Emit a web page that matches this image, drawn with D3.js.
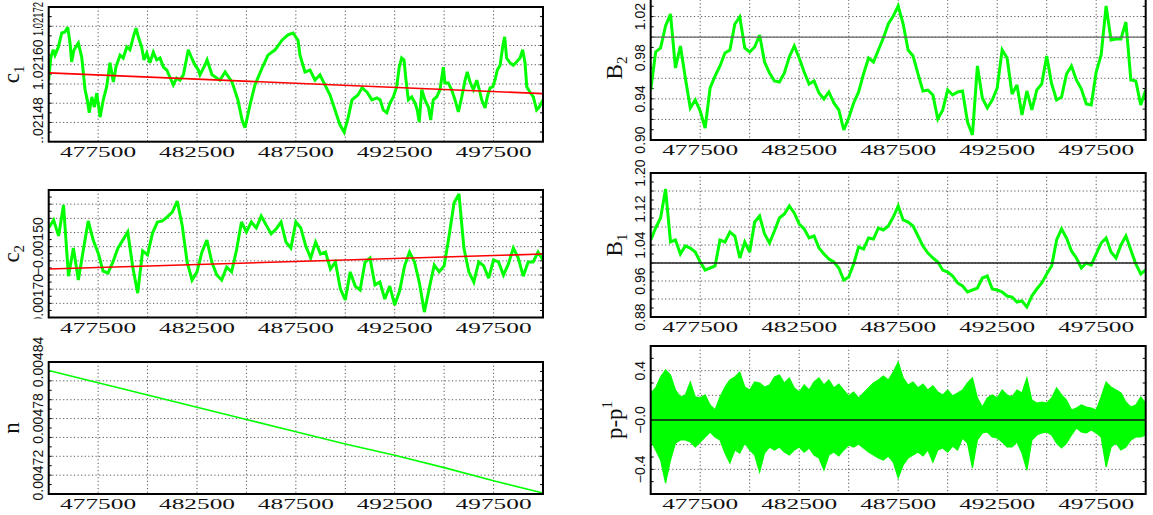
<!DOCTYPE html>
<html>
<head>
<meta charset="utf-8">
<script src="https://cdn.jsdelivr.net/npm/d3@7"></script>
<style>
body { margin: 0; background: #fff; }
svg { display: block; }
</style>
</head>
<body>
<svg id="chart" width="1153" height="515"></svg>
<script>
// ---- data ----
const xGrid = d3.range(477500, 500000, 2500);           // dotted vertical grid
const xLabels = [477500, 482500, 487500, 492500, 497500];
const sampleX = d3.range(475000, 500001, 250);          // sample positions of the uniform series

const c1X = [475000,475100,475230,475320,475490,475660,475820,475960,476080,476160,476280,476500,476670,476840,476950,
  477050,477180,477310,477430,477600,477760,477930,478100,478270,478400,478610,478770,478950,479110,479280,479420,479530,
  479700,479820,479960,480120,480290,480460,480630,480800,480970,481130,481300,481470,481640,481810,481980,482060,482230,
  482400,482570,482650,482900,483010,483260,483660,483920,484270,484570,484780,484930,485180,485430,485790,486090,486450,
  486800,487100,487360,487610,487710,487960,488220,488470,488720,488970,489230,489480,489730,489940,490140,490340,490640,
  490850,491100,491350,491600,491760,491920,492100,492260,492430,492600,492730,492850,492970,493070,493190,493360,493530,
  493640,493740,493870,494030,494200,494320,494450,494620,494790,494960,495040,495210,495380,495550,495720,495890,496060,
  496170,496310,496480,496650,496780,496900,497070,497180,497320,497460,497570,497690,497830,497960,498060,498160,498330,
  498500,498670,498840,498970,499090,499180,499340,499510,499680,499810,500000];
const c1 = [1.021568,1.021614,1.021631,1.021620,1.021637,1.021666,1.021668,1.021678,1.021645,1.021606,1.021631,1.021645,
  1.021616,1.021548,1.021527,1.021500,1.021533,1.021512,1.021541,1.021491,1.021527,1.021554,1.021604,1.021564,1.021595,
  1.021620,1.021614,1.021637,1.021631,1.021658,1.021676,1.021658,1.021637,1.021610,1.021624,1.021604,1.021626,1.021610,
  1.021614,1.021595,1.021589,1.021574,1.021558,1.021572,1.021568,1.021579,1.021614,1.021631,1.021614,1.021599,1.021589,
  1.021579,1.021599,1.021610,1.021579,1.021568,1.021585,1.021564,1.021527,1.021485,1.021469,1.021516,1.021558,1.021593,
  1.021620,1.021631,1.021651,1.021662,1.021666,1.021651,1.021620,1.021585,1.021589,1.021568,1.021579,1.021558,1.021537,
  1.021506,1.021475,1.021460,1.021489,1.021527,1.021537,1.021552,1.021543,1.021527,1.021531,1.021527,1.021506,1.021500,
  1.021520,1.021533,1.021554,1.021595,1.021614,1.021610,1.021568,1.021527,1.021533,1.021520,1.021506,1.021481,1.021548,
  1.021527,1.021512,1.021485,1.021527,1.021533,1.021548,1.021595,1.021562,1.021562,1.021548,1.021527,1.021502,1.021533,
  1.021568,1.021585,1.021564,1.021548,1.021568,1.021548,1.021527,1.021510,1.021533,1.021552,1.021554,1.021568,1.021589,
  1.021599,1.021637,1.021658,1.021614,1.021604,1.021599,1.021606,1.021614,1.021631,1.021604,1.021554,1.021543,1.021533,
  1.021506,1.021512,1.021527];
const c1Fit = [1.021583, 1.021540];

const c2 = [-0.001434,-0.001406,-0.001462,-0.001353,-0.001604,-0.001505,-0.001618,-0.001512,-0.001409,-0.001477,
  -0.001522,-0.001586,-0.001593,-0.001554,-0.001505,-0.001477,-0.001448,-0.001572,-0.001664,-0.001515,
  -0.001529,-0.001452,-0.001413,-0.001409,-0.001395,-0.001378,-0.001339,-0.001424,-0.001554,-0.001618,
  -0.001589,-0.001519,-0.001477,-0.001554,-0.001600,-0.001618,-0.001572,-0.001589,-0.001512,-0.001413,
  -0.001448,-0.001413,-0.001434,-0.001392,-0.001424,-0.001455,-0.001438,-0.001413,-0.001484,-0.001505,
  -0.001413,-0.001434,-0.001498,-0.001540,-0.001484,-0.001526,-0.001519,-0.001579,-0.001554,-0.001649,
  -0.001688,-0.001589,-0.001639,-0.001653,-0.001554,-0.001540,-0.001635,-0.001625,-0.001685,-0.001639,
  -0.001706,-0.001656,-0.001568,-0.001519,-0.001554,-0.001628,-0.001731,-0.001646,-0.001565,-0.001589,
  -0.001568,-0.001462,-0.001346,-0.001314,-0.001505,-0.001589,-0.001625,-0.001554,-0.001568,-0.001611,
  -0.001547,-0.001554,-0.001600,-0.001561,-0.001505,-0.001540,-0.001604,-0.001554,-0.001554,-0.001519,
  -0.001547];
const c2Fit = [-0.001579, -0.001526];

const nX = d3.range(475000, 500001, 2500);
const n = [0.004831,0.004818,0.004805,0.004792,0.004779,0.004766,0.004753,0.004741,0.004728,0.004714,0.004701];

const B2 = [0.9486,0.9856,0.9895,1.0108,1.0225,0.9700,0.9914,0.9603,0.9311,0.9389,
  0.9282,0.9117,0.9506,0.9622,0.9720,0.9846,0.9875,1.0128,1.0196,0.9895,
  0.9856,0.9904,1.0021,0.9758,0.9652,0.9574,0.9564,0.9652,0.9807,0.9914,
  0.9797,0.9661,0.9545,0.9574,0.9457,0.9399,0.9467,0.9360,0.9292,0.9098,
  0.9214,0.9360,0.9467,0.9642,0.9797,0.9758,0.9875,0.9992,1.0128,1.0206,
  1.0303,1.0128,0.9875,0.9817,0.9642,0.9477,0.9486,0.9438,0.9204,0.9292,
  0.9486,0.9438,0.9467,0.9477,0.9175,0.9049,0.9720,0.9409,0.9311,0.9389,
  0.9506,0.9875,0.9797,0.9447,0.9535,0.9243,0.9477,0.9292,0.9486,0.9545,
  0.9817,0.9545,0.9389,0.9418,0.9642,0.9720,0.9584,0.9496,0.9350,0.9341,
  0.9661,0.9827,1.0303,0.9972,0.9982,0.9982,1.0147,0.9584,0.9574,0.9341,
  0.9486];

const B1 = [1.0511,1.0778,1.1000,1.1644,1.0467,1.0511,1.0200,1.0378,1.0333,1.0244,
  1.0022,0.9844,0.9889,0.9933,1.0511,1.0467,1.0689,1.0600,1.0111,1.0467,
  1.0244,1.0911,1.1044,1.0644,1.0444,1.0711,1.1000,1.1089,1.1267,1.1111,
  1.0867,1.0756,1.0556,1.0600,1.0333,1.0200,1.0089,1.0022,0.9889,0.9622,
  0.9689,0.9978,1.0356,1.0311,1.0556,1.0533,1.0778,1.0733,1.0822,1.1022,
  1.1267,1.0956,1.0911,1.0822,1.0600,1.0378,1.0222,1.0111,1.0022,0.9844,
  0.9800,0.9711,0.9556,0.9489,0.9356,0.9400,0.9444,0.9667,0.9711,0.9422,
  0.9400,0.9356,0.9267,0.9244,0.9133,0.9156,0.9022,0.9267,0.9422,0.9556,
  0.9756,0.9933,1.0511,1.0756,1.0556,1.0267,1.0111,0.9889,1.0000,0.9956,
  1.0200,1.0444,1.0556,1.0244,1.0111,1.0400,1.0600,1.0289,0.9978,0.9756,
  0.9844];

// p - p^1 : upper and lower edge of the scatter band
const dpHi = [0.219,0.260,0.349,0.406,0.365,0.243,0.187,0.203,0.308,0.187,
  0.178,0.203,0.122,0.081,0.187,0.268,0.324,0.349,0.389,0.268,
  0.243,0.308,0.300,0.268,0.284,0.349,0.365,0.300,0.341,0.260,
  0.227,0.284,0.243,0.308,0.341,0.284,0.324,0.260,0.292,0.243,
  0.195,0.227,0.178,0.219,0.260,0.300,0.324,0.357,0.324,0.389,
  0.470,0.341,0.284,0.308,0.260,0.292,0.243,0.276,0.227,0.203,
  0.243,0.195,0.219,0.243,0.300,0.341,0.178,0.105,0.178,0.203,
  0.178,0.243,0.203,0.187,0.243,0.219,0.341,0.162,0.138,0.146,
  0.138,0.178,0.260,0.203,0.162,0.081,0.097,0.122,0.105,0.097,
  0.081,0.187,0.308,0.268,0.243,0.219,0.146,0.105,0.122,0.187,
  0.138];
const dpLo = [-0.162,-0.243,-0.324,-0.511,-0.324,-0.187,-0.162,-0.162,-0.178,-0.219,
  -0.178,-0.138,-0.097,-0.138,-0.162,-0.268,-0.349,-0.243,-0.268,-0.187,
  -0.243,-0.284,-0.422,-0.268,-0.219,-0.243,-0.219,-0.260,-0.284,-0.243,
  -0.219,-0.260,-0.227,-0.284,-0.308,-0.406,-0.284,-0.260,-0.292,-0.243,
  -0.203,-0.219,-0.195,-0.227,-0.260,-0.284,-0.308,-0.324,-0.292,-0.341,
  -0.470,-0.365,-0.308,-0.284,-0.260,-0.292,-0.243,-0.341,-0.243,-0.227,
  -0.260,-0.211,-0.243,-0.146,-0.187,-0.389,-0.162,-0.105,-0.097,-0.138,
  -0.146,-0.178,-0.219,-0.219,-0.178,-0.268,-0.406,-0.162,-0.122,-0.105,
  -0.097,-0.122,-0.187,-0.227,-0.187,-0.122,-0.065,-0.097,-0.105,-0.081,
  -0.105,-0.138,-0.381,-0.219,-0.187,-0.243,-0.219,-0.162,-0.138,-0.138,
  -0.122];

// ---- drawing ----
const GREEN = '#00ff00';
const svg = d3.select('#chart');

function lineOf(xs, ys, x, y){
	return d3.line().x((d,i)=>x(xs[i])).y(d=>y(d))(ys);
}

function greenLine(g, xs, ys, x, y){
	g.append('path').attr('d', lineOf(xs, ys, x, y)).attr('fill','none')
		.attr('stroke',GREEN).attr('stroke-width',3).attr('stroke-linejoin','miter').attr('stroke-miterlimit',3);
}

const panels = [
	{id:'c1', left:48.7, top:7, width:494.3, height:134.7, domain:[1.02144,1.02172], step:0.00004,
		ticks:[1.02148,1.02160,1.02172], fmt:d=>d.toFixed(5), title:'c', sub:'1', clipLabels:true,
		draw:(g,x,y)=>{
			greenLine(g, c1X, c1, x, y);
			g.append('path').attr('d', lineOf([475000,500000], c1Fit, x, y)).attr('fill','none')
				.attr('stroke','#ff0000').attr('stroke-width',1.6);
		}},
	{id:'c2', left:48.7, top:190, width:494.3, height:127.5, domain:[-0.00175,-0.00130], step:0.00005,
		ticks:[-0.00170,-0.00150], fmt:d=>'\u2212'+Math.abs(d).toFixed(5), title:'c', sub:'2', clipLabels:true,
		draw:(g,x,y)=>{
			greenLine(g, sampleX, c2, x, y);
			g.append('path').attr('d', lineOf([475000,500000], c2Fit, x, y)).attr('fill','none')
				.attr('stroke','#ff0000').attr('stroke-width',1.6);
		}},
	{id:'n', left:48.7, top:362, width:494.3, height:132, domain:[0.00470,0.00484], step:0.00002,
		ticks:[0.00472,0.00478,0.00484], fmt:d=>d.toFixed(5), title:'n', sub:null,
		draw:(g,x,y)=>{
			g.append('path').attr('d', lineOf(nX, n, x, y)).attr('fill','none')
				.attr('stroke',GREEN).attr('stroke-width',1.6);
		}},
	{id:'B2', left:650.7, top:-4, width:495, height:144, domain:[0.90,1.04], step:0.02,
		ticks:[0.90,0.94,0.98,1.02], fmt:d=>d.toFixed(2), title:'B', sub:'2', ref:1.0, refColor:'#666',
		draw:(g,x,y)=>greenLine(g, sampleX, B2, x, y)},
	{id:'B1', left:650.7, top:173, width:495, height:144, domain:[0.88,1.20], step:0.04,
		ticks:[0.88,0.96,1.04,1.12,1.20], fmt:d=>d.toFixed(2), title:'B', sub:'1', ref:1.0, refColor:'#222',
		draw:(g,x,y)=>greenLine(g, sampleX, B1, x, y)},
	{id:'dp', left:650.7, top:346, width:495, height:148, domain:[-0.6,0.6], step:0.2,
		ticks:[-0.4,0,0.4], fmt:d=>d>0 ? d.toFixed(1) : '\u2212'+Math.abs(d).toFixed(1), title:'p-p', sup:'1', ref:0, refColor:'#111',
		draw:(g,x,y)=>{
			const band = d3.area().x((d,i)=>x(sampleX[i])).y0((d,i)=>y(dpLo[i])).y1(d=>y(d));
			g.append('path').attr('d', band(dpHi)).attr('fill',GREEN)
				.attr('stroke',GREEN).attr('stroke-width',1.2).attr('stroke-linejoin','miter');
		}}
];

panels.forEach(p=>{
	const x = d3.scaleLinear().domain([475000,500000]).range([p.left, p.left+p.width]);
	const y = d3.scaleLinear().domain(p.domain).range([p.top+p.height, p.top]);
	const g = svg.append('g').attr('class','panel-'+p.id);

	const defs = svg.append('defs');
	defs.append('clipPath').attr('id','plot-'+p.id).append('rect')
		.attr('x',p.left).attr('y',p.top).attr('width',p.width).attr('height',p.height);
	defs.append('clipPath').attr('id','lab-'+p.id).append('rect')
		.attr('x',0).attr('y',p.top-40).attr('width',p.left).attr('height',p.height+41);

	const nSteps = Math.round((p.domain[1]-p.domain[0])/p.step);
	const gridVals = d3.range(1, nSteps).map(i=>p.domain[0]+i*p.step);
	const minorVals = d3.range(1, 2*nSteps).map(i=>p.domain[0]+i*p.step/2);

	// dotted grid
	g.append('g').selectAll('line').data(gridVals).join('line')
		.attr('x1',p.left).attr('x2',p.left+p.width)
		.attr('y1',d=>y(d)).attr('y2',d=>y(d))
		.attr('stroke','#555').attr('stroke-width',1).attr('stroke-dasharray','1.2,2.4');
	g.append('g').selectAll('line').data(xGrid).join('line')
		.attr('x1',d=>x(d)).attr('x2',d=>x(d))
		.attr('y1',p.top).attr('y2',p.top+p.height)
		.attr('stroke','#555').attr('stroke-width',1).attr('stroke-dasharray','1.2,2.4');

	// small inward ticks on both sides
	g.append('g').selectAll('line').data(minorVals).join('line')
		.attr('x1',p.left).attr('x2',p.left+3)
		.attr('y1',d=>y(d)).attr('y2',d=>y(d)).attr('stroke','#000');
	g.append('g').selectAll('line').data(minorVals).join('line')
		.attr('x1',p.left+p.width-3).attr('x2',p.left+p.width)
		.attr('y1',d=>y(d)).attr('y2',d=>y(d)).attr('stroke','#000');

	// data
	p.draw(g.append('g').attr('clip-path','url(#plot-'+p.id+')'), x, y);

	if (p.ref !== undefined){
		g.append('line').attr('x1',p.left).attr('x2',p.left+p.width)
			.attr('y1',y(p.ref)).attr('y2',y(p.ref))
			.attr('stroke',p.refColor).attr('stroke-width',1.3);
	}

	// frame
	g.append('rect').attr('x',p.left).attr('y',p.top).attr('width',p.width).attr('height',p.height)
		.attr('fill','none').attr('stroke','#000').attr('stroke-width',2);

	// x labels
	g.append('g').selectAll('text').data(xLabels).join('text')
		.attr('x',d=>x(d)).attr('y',p.top+p.height+15)
		.attr('text-anchor','middle')
		.attr('font-family','Liberation Serif, DejaVu Serif, serif').attr('font-size',15.5)
		.attr('textLength',76).attr('lengthAdjust','spacingAndGlyphs')
		.attr('fill','#111')
		.text(d=>d);

	// y labels, rotated; one that would run off the top of the page is squeezed to fit
	const lab = g.append('g');
	if (p.clipLabels) lab.attr('clip-path','url(#lab-'+p.id+')');
	lab.selectAll('text').data(p.ticks).join('text')
		.attr('font-family','Liberation Sans, Arial, sans-serif').attr('font-size',14)
		.attr('fill','#111')
		.each(function(d){
			const t = d3.select(this).text(p.fmt(d));
			const yy = y(d);
			const half = this.getComputedTextLength()/2;
			if (yy - half < 2){
				t.attr('transform',`translate(${p.left-6},${yy+29}) rotate(-90)`)
					.attr('text-anchor','start')
					.attr('textLength', yy+27).attr('lengthAdjust','spacingAndGlyphs');
			} else {
				t.attr('transform',`translate(${p.left-6},${yy}) rotate(-90)`)
					.attr('text-anchor','middle');
			}
		});

	// axis title
	const tx = p.left < 300 ? 18.5 : 622;
	const t = g.append('text')
		.attr('transform',`translate(${tx},${p.top+p.height/2}) rotate(-90)`)
		.attr('text-anchor','middle')
		.attr('font-family','Liberation Serif, DejaVu Serif, serif').attr('font-size',23)
		.attr('fill','#111');
	t.append('tspan').text(p.title);
	if (p.sub) t.append('tspan').attr('dy',5).attr('font-size',15).text(p.sub);
	if (p.sup) t.append('tspan').attr('dy',-10).attr('font-size',15).text(p.sup);
});
</script>
</body>
</html>
